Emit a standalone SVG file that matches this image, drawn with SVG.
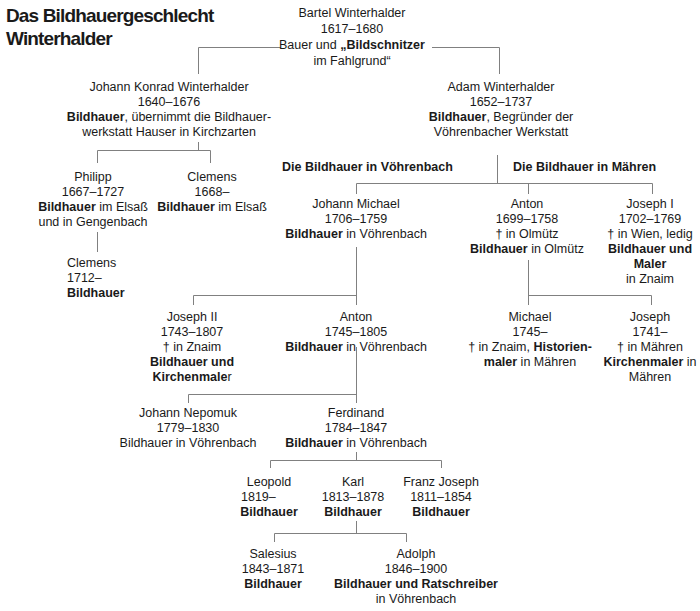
<svg xmlns="http://www.w3.org/2000/svg" width="700" height="611" viewBox="0 0 700 611">
<style>
text{font-family:"Liberation Sans",Arial,Helvetica,sans-serif;font-size:12.5px;fill:#1a1a1a;text-anchor:middle}
.b{font-weight:bold}
.title{font-size:19px;font-weight:bold;text-anchor:start;letter-spacing:-0.85px}
.h{font-weight:bold;text-anchor:start}
.s{text-anchor:start}
#connectors path{fill:none;stroke:#808080;stroke-width:1}
</style>
<rect width="700" height="611" fill="#fff"/>
<g id="title">
<text class="title" x="6" y="22">Das Bildhauergeschlecht</text>
<text class="title" x="6" y="45">Winterhalder</text>
</g>
<g id="connectors">
<path d="M198.5,74V47.5H281M432,47.5H499.5V74"/>
<path d="M198.5,142V150.5M97.5,163V150.5H210.5V163"/>
<path d="M97.5,232V252"/>
<path d="M497.5,155V183.5M356.5,194V183.5H652.5V194M528.5,183.5V194"/>
<path d="M356.5,247V305M193.5,305V295.5H356.5"/>
<path d="M528.5,260V305M528.5,295.5H651.5V305"/>
<path d="M356.5,347V403M188.5,403V394.5H356.5"/>
<path d="M356.5,452V460.5M270.5,468V460.5H441.5V468"/>
<path d="M356.5,521V533.5M274.5,542V533.5H406.5V542"/>
</g>
<g id="bartel">
<text x="352" y="17">Bartel Winterhalder</text>
<text x="352" y="33">1617–1680</text>
<text x="352" y="49">Bauer und <tspan class="b">„Bildschnitzer</tspan></text>
<text x="352" y="65">im Fahlgrund“</text>
</g>
<g id="johann-konrad">
<text x="169" y="91">Johann Konrad Winterhalder</text>
<text x="169" y="106">1640–1676</text>
<text x="169" y="121"><tspan class="b">Bildhauer</tspan>, übernimmt die Bildhauer-</text>
<text x="169" y="136">werkstatt Hauser in Kirchzarten</text>
</g>
<g id="adam">
<text x="501" y="91">Adam Winterhalder</text>
<text x="501" y="106">1652–1737</text>
<text x="501" y="121"><tspan class="b">Bildhauer</tspan>, Begründer der</text>
<text x="501" y="136">Vöhrenbacher Werkstatt</text>
</g>
<g id="philipp">
<text x="93" y="181">Philipp</text>
<text x="93" y="196">1667–1727</text>
<text x="93" y="211"><tspan class="b">Bildhauer</tspan> im Elsaß</text>
<text x="93" y="226">und in Gengenbach</text>
</g>
<g id="clemens-1668">
<text x="212" y="181">Clemens</text>
<text x="212" y="196">1668–</text>
<text x="212" y="211"><tspan class="b">Bildhauer</tspan> im Elsaß</text>
</g>
<g id="clemens-1712">
<text class="s" x="67" y="267">Clemens</text>
<text class="s" x="67" y="282">1712–</text>
<text class="s b" x="67" y="297">Bildhauer</text>
</g>
<g id="headings">
<text class="h" x="282" y="171">Die Bildhauer in Vöhrenbach</text>
<text class="h" x="513" y="171">Die Bildhauer in Mähren</text>
</g>
<g id="johann-michael">
<text x="356" y="208">Johann Michael</text>
<text x="356" y="223">1706–1759</text>
<text x="356" y="238"><tspan class="b">Bildhauer</tspan> in Vöhrenbach</text>
</g>
<g id="anton-1699">
<text x="527" y="208">Anton</text>
<text x="527" y="223">1699–1758</text>
<text x="527" y="238">† in Olmütz</text>
<text x="527" y="253"><tspan class="b">Bildhauer</tspan> in Olmütz</text>
</g>
<g id="joseph-i">
<text x="650" y="208">Joseph I</text>
<text x="650" y="223">1702–1769</text>
<text x="650" y="238">† in Wien, ledig</text>
<text class="b" x="650" y="253">Bildhauer und</text>
<text class="b" x="650" y="268">Maler</text>
<text x="650" y="283">in Znaim</text>
</g>
<g id="joseph-ii">
<text x="192" y="321">Joseph II</text>
<text x="192" y="336">1743–1807</text>
<text x="192" y="351">† in Znaim</text>
<text class="b" x="192" y="366">Bildhauer und</text>
<text x="192" y="381"><tspan class="b">Kirchenmale</tspan>r</text>
</g>
<g id="anton-1745">
<text x="356" y="321">Anton</text>
<text x="356" y="336">1745–1805</text>
<text x="356" y="351"><tspan class="b">Bildhauer</tspan> in Vöhrenbach</text>
</g>
<g id="michael">
<text x="530" y="321">Michael</text>
<text x="530" y="336">1745–</text>
<text x="530" y="351">† in Znaim, <tspan class="b">Historien-</tspan></text>
<text x="530" y="366"><tspan class="b">maler</tspan> in Mähren</text>
</g>
<g id="joseph-1741">
<text x="650" y="321">Joseph</text>
<text x="650" y="336">1741–</text>
<text x="650" y="351">† in Mähren</text>
<text x="650" y="366"><tspan class="b">Kirchenmaler</tspan> in</text>
<text x="650" y="381">Mähren</text>
</g>
<g id="johann-nepomuk">
<text x="188" y="417">Johann Nepomuk</text>
<text x="188" y="432">1779–1830</text>
<text x="188" y="447">Bildhauer in Vöhrenbach</text>
</g>
<g id="ferdinand">
<text x="356" y="417">Ferdinand</text>
<text x="356" y="432">1784–1847</text>
<text x="356" y="447"><tspan class="b">Bildhauer</tspan> in Vöhrenbach</text>
</g>
<g id="leopold">
<text x="269" y="486">Leopold</text>
<text class="s" x="241" y="501">1819–</text>
<text class="b" x="269" y="516">Bildhauer</text>
</g>
<g id="karl">
<text x="353" y="486">Karl</text>
<text x="353" y="501">1813–1878</text>
<text class="b" x="353" y="516">Bildhauer</text>
</g>
<g id="franz-joseph">
<text x="441" y="486">Franz Joseph</text>
<text x="441" y="501">1811–1854</text>
<text class="b" x="441" y="516">Bildhauer</text>
</g>
<g id="salesius">
<text x="273" y="558">Salesius</text>
<text x="273" y="573">1843–1871</text>
<text class="b" x="273" y="588">Bildhauer</text>
</g>
<g id="adolph">
<text x="416" y="558">Adolph</text>
<text x="416" y="573">1846–1900</text>
<text class="b" x="416" y="588">Bildhauer und Ratschreiber</text>
<text x="416" y="603">in Vöhrenbach</text>
</g>
</svg>
